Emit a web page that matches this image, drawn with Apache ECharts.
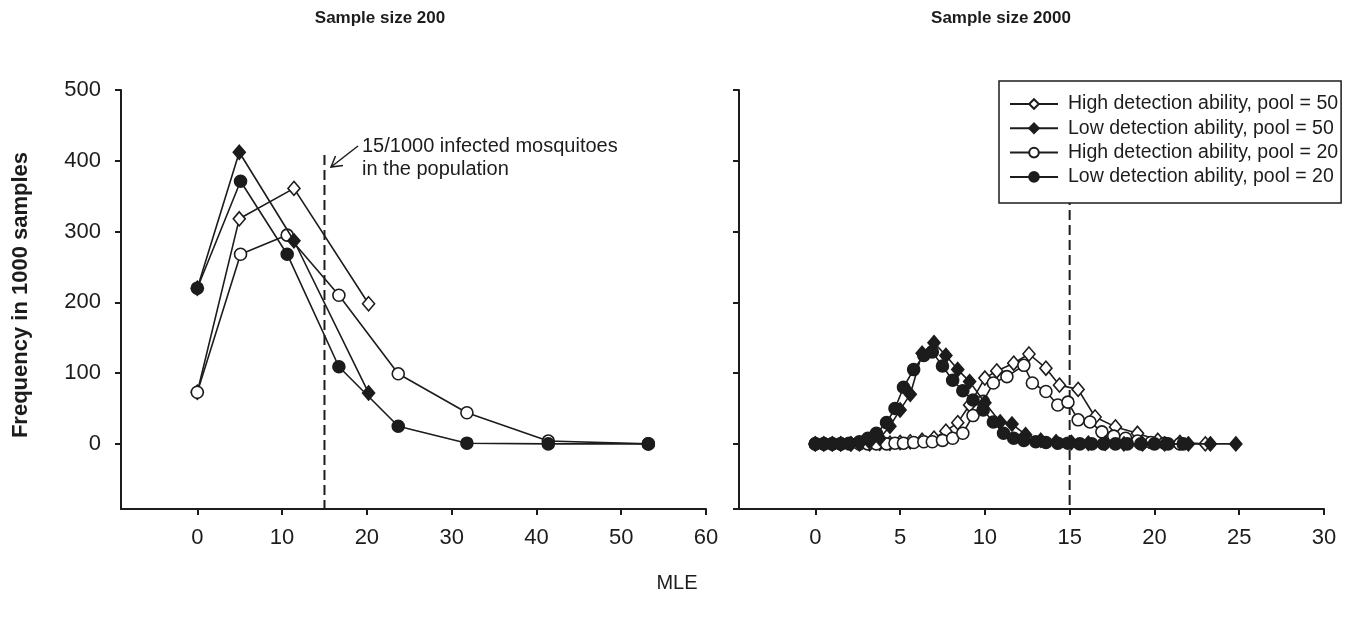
<!DOCTYPE html>
<html><head><meta charset="utf-8">
<script src="https://cdn.jsdelivr.net/npm/echarts@6/dist/echarts.min.js"></script>
<style>html,body{margin:0;padding:0;background:#fff}#c{width:1358px;height:618px}</style>
</head><body><div id="c"></div>
<script>
// ---------- DATA ----------
const seriesNames = ['High detection ability, pool = 50','Low detection ability, pool = 50','High detection ability, pool = 20','Low detection ability, pool = 20'];
const panelTitles = ['Sample size 200','Sample size 2000'];
const yAxisTitle = 'Frequency in 1000 samples';
const xAxisTitle = 'MLE';
const noteLines = ['15/1000 infected mosquitoes','in the population'];
const trueValue = 15;

// Sample size 200
const s200_x50 = [0, 4.95, 11.4, 20.2];
const s200_high50 = [73, 318, 361, 198];
const s200_low50 = [220, 412, 287, 72];
const s200_x20 = [0, 5.1, 10.6, 16.7, 23.7, 31.8, 41.4, 53.2];
const s200_high20 = [73, 268, 295, 210, 99, 44, 4, 0];
const s200_low20 = [220, 371, 268, 109, 25, 1, 0, 0];

// Sample size 2000
const s2000_xLow50 = [0,0.5,1.0,1.5,2.1,2.6,3.2,3.8,4.4,5.0,5.6,6.3,7.0,7.7,8.4,9.1,10.0,10.9,11.6,12.4,13.3,14.2,15.1,16.1,17.1,18.2,19.3,20.6,22.0,23.3,24.8];
const s2000_low50  = [0,0,0,0,0,1,3,8,25,48,70,128,143,125,105,88,58,31,28,13,5,3,2,1,1,0,0,0,0,0,0];
const s2000_xLow20 = [0,0.5,1.0,1.5,2.0,2.6,3.1,3.6,4.2,4.7,5.2,5.8,6.4,6.9,7.5,8.1,8.7,9.3,9.9,10.5,11.1,11.7,12.3,13.0,13.6,14.3,14.9,15.6,16.3,17.0,17.7,18.4,19.2,20.0,20.8,21.7];
const s2000_low20  = [0,0,0,0,1,3,8,15,30,50,80,105,125,130,110,90,75,62,48,31,15,8,5,3,2,1,1,0,0,0,0,0,0,0,0,0];
const s2000_xHigh50 = [0,0.5,1.0,1.5,2.1,2.6,3.2,3.8,4.4,5.0,5.6,6.3,7.0,7.7,8.4,9.1,10.0,10.7,11.7,12.6,13.6,14.4,15.5,16.5,17.7,19.0,20.2,21.5,23.0];
const s2000_high50  = [0,0,0,0,0,0,0,1,1,2,3,5,8,18,30,55,93,103,114,127,107,83,77,38,24,15,5,2,0];
const s2000_xHigh20 = [0,0.5,1.0,1.5,2.0,2.6,3.1,3.6,4.2,4.7,5.2,5.8,6.4,6.9,7.5,8.1,8.7,9.3,9.9,10.5,11.3,12.3,12.8,13.6,14.3,14.9,15.5,16.2,16.9,17.6,18.3,19.0,19.8,20.6,21.5];
const s2000_high20  = [0,0,0,0,0,0,0,0,0,1,1,2,3,3,5,8,15,40,60,86,95,111,86,74,55,59,34,31,17,11,8,4,2,1,0];

// ---------- CHART ----------
const ink = '#1c1c1c';
const FONT = '"Liberation Sans", Arial, sans-serif';
function pts(xs, ys){ return xs.map((x,i)=>[x, ys[i]]); }
function mk(name, xs, ys, symbol, filled, gi){
  return {
    name, type:'line', xAxisIndex:gi, yAxisIndex:gi, data: pts(xs, ys),
    symbol, symbolSize: symbol==='diamond' ? [12,14] : 12,
    showAllSymbol:true,
    lineStyle:{color:ink, width:1.6},
    itemStyle:{color: filled ? ink : '#fff', borderColor: ink, borderWidth:1.6},
    emphasis:{disabled:true}, z: filled ? 4 : 3
  };
}
function refLine(gi, top){
  return {name:'ref'+gi, type:'line', xAxisIndex:gi, yAxisIndex:gi, symbol:'none',
    data:[[trueValue, top],[trueValue, -92]],
    lineStyle:{color:ink, width:2, type:[10,5]}, z:1, silent:true};
}
function xA(gi, min, max){
  return {type:'value', gridIndex:gi, min, max, splitNumber:7,
    axisLine:{show:true, onZero:false, lineStyle:{color:ink, width:2}},
    axisTick:{show:true, inside:false, length:6, lineStyle:{color:ink, width:2}},
    axisLabel:{show:true, color:ink, fontSize:22, fontFamily:FONT, margin:18, showMinLabel:false,
      formatter: v => (Math.abs(v - Math.round(v/5)*5) < 1e-9 ? String(v) : '')},
    splitLine:{show:false}};
}
function yA(gi, showLabels){
  return {type:'value', gridIndex:gi, min:-92, max:500, splitNumber:6,
    axisLine:{show:true, onZero:false, lineStyle:{color:ink, width:2}},
    axisTick:{show:true, inside:false, length:6, lineStyle:{color:ink, width:2}},
    axisLabel:{show:showLabels, color:ink, fontSize:22, fontFamily:FONT, margin:20, showMinLabel:false,
      formatter: v => (v % 100 === 0 ? String(v) : '')},
    splitLine:{show:false}};
}

const chart = echarts.init(document.getElementById('c'), null, {renderer:'canvas'});
chart.setOption({
  animation:false,
  backgroundColor:'#fff',
  textStyle:{fontFamily:FONT},
  grid:[{left:121, right:652, top:90, bottom:109}, {left:739, right:34, top:90, bottom:109}],
  xAxis:[xA(0,-9,60), xA(1,-4.5,30)],
  yAxis:[yA(0,true), yA(1,false)],
  legend:{
    data: seriesNames, orient:'vertical', left:999, top:81,
    padding:[13,3,16,10], itemGap:4.3, itemWidth:48, itemHeight:12,
    borderColor:ink, borderWidth:1.5, backgroundColor:'#fff',
    textStyle:{color:ink, fontSize:19.5, fontFamily:FONT, lineHeight:20, padding:[0,0,0,5]},
    selectedMode:false
  },
  series:[
    refLine(0, 408), refLine(1, 500),
    mk(seriesNames[0], s200_x50, s200_high50, 'diamond', false, 0),
    mk(seriesNames[1], s200_x50, s200_low50, 'diamond', true, 0),
    mk(seriesNames[2], s200_x20, s200_high20, 'circle', false, 0),
    mk(seriesNames[3], s200_x20, s200_low20, 'circle', true, 0),
    mk(seriesNames[0], s2000_xHigh50, s2000_high50, 'diamond', false, 1),
    mk(seriesNames[1], s2000_xLow50, s2000_low50, 'diamond', true, 1),
    mk(seriesNames[2], s2000_xHigh20, s2000_high20, 'circle', false, 1),
    mk(seriesNames[3], s2000_xLow20, s2000_low20, 'circle', true, 1)
  ],
  graphic:[
    {type:'text', x:380, y:18, style:{text:panelTitles[0], fill:ink, font:'bold 17px '+FONT, textAlign:'center', textVerticalAlign:'middle'}},
    {type:'text', x:1001, y:18, style:{text:panelTitles[1], fill:ink, font:'bold 17px '+FONT, textAlign:'center', textVerticalAlign:'middle'}},
    {type:'text', x:21, y:295, rotation:Math.PI/2, style:{text:yAxisTitle, fill:ink, font:'bold 22px '+FONT, textAlign:'center', textVerticalAlign:'middle'}},
    {type:'text', x:677, y:583, style:{text:xAxisTitle, fill:ink, font:'20px '+FONT, textAlign:'center', textVerticalAlign:'middle'}},
    {type:'text', x:362, y:146, style:{text:noteLines[0], fill:ink, font:'20px '+FONT, textAlign:'left', textVerticalAlign:'middle'}},
    {type:'text', x:362, y:169, style:{text:noteLines[1], fill:ink, font:'20px '+FONT, textAlign:'left', textVerticalAlign:'middle'}},
    {type:'line', shape:{x1:358, y1:146, x2:331, y2:167}, style:{stroke:ink, lineWidth:1.5}},
    {type:'polyline', shape:{points:[[343,165.4],[331,167],[335.5,156]]}, style:{stroke:ink, lineWidth:1.5, fill:null}}
  ]
});
</script></body></html>
